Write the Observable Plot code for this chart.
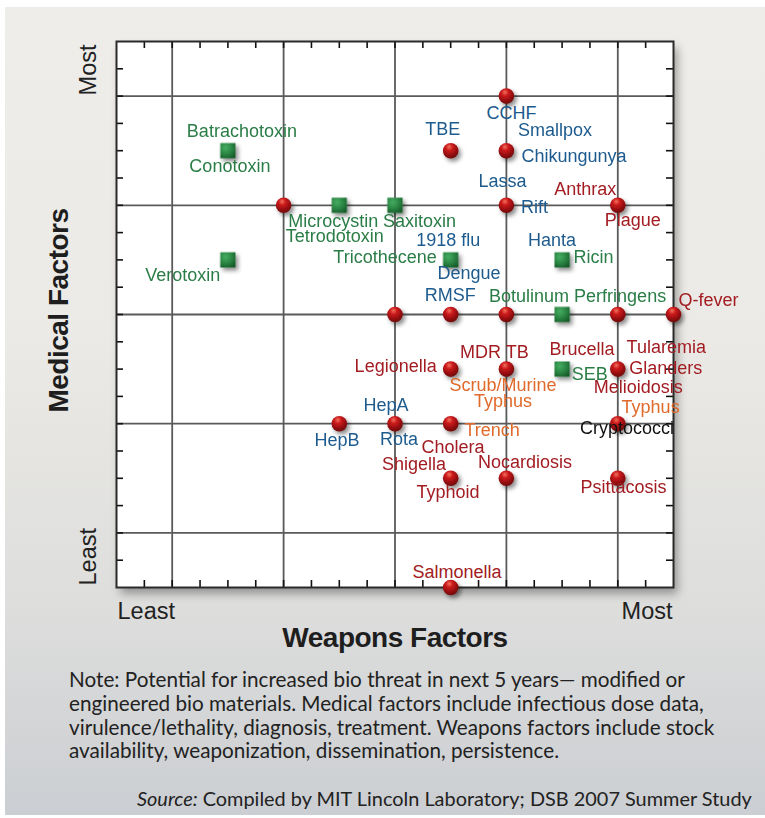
<!DOCTYPE html>
<html><head><meta charset="utf-8">
<script src="https://cdn.jsdelivr.net/npm/d3@7"></script>
<script src="https://cdn.jsdelivr.net/npm/@observablehq/plot@0.6"></script>
<style>
html,body{margin:0;padding:0;background:#ffffff;width:765px;height:818px;overflow:hidden;}
#panel{position:absolute;left:5px;top:7px;width:760px;height:808px;
  background:linear-gradient(to bottom,#efede9 0%,#ebeae6 40%,#dddddc 75%,#cbced2 100%);}
#chart{position:absolute;left:0;top:0;}
#note{position:absolute;left:69px;top:668px;font-family:Lato,"Liberation Sans",sans-serif;font-size:20.7px;line-height:23.8px;color:#222;white-space:nowrap;}
#source{position:absolute;left:137px;top:786px;font-family:Lato,"Liberation Sans",sans-serif;font-size:19.9px;color:#222;white-space:nowrap;}
</style></head>
<body>
<div id="panel"></div>
<div id="chart"></div>
<div id="note"></div>
<div id="source"></div>
<script>
// ---- data ----
const agentNames = ["CCHF","TBE","Smallpox","Chikungunya","Lassa","Rift","Anthrax","Plague",
  "Batrachotoxin","Conotoxin","Microcystin","Tetrodotoxin","Saxitoxin","Verotoxin",
  "1918 flu","Tricothecene","Dengue","Hanta","Ricin","RMSF","Botulinum Perfringens","Q-fever",
  "Legionella","MDR TB","Scrub/Murine\nTyphus","Brucella","SEB","Tularemia","Glanders","Melioidosis",
  "Typhus","Cryptococci","HepA","HepB","Rota","Cholera","Trench","Shigella","Typhoid",
  "Nocardiosis","Psittacosis","Salmonella"];
const agentWeapons = [14,12,14,14,14,14,18,18, 4,4,8,8,10,4, 12,12,12,16,16,12,16,20,
  12,14,14,16,16,18,18,18, 18,18,10,8,10,12,12,12,12, 14,18,12];
const agentMedical = [18,16,16,16,14,14,14,14, 16,16,14,14,14,12, 12,12,12,12,12,10,10,10,
  8,8,8,8,8,8,8,8, 6,6,6,6,6,6,6,4,4, 4,4,0];
const agentGroup = ["virus","virus","virus","virus","virus","virus","bacteria","bacteria",
  "toxin","toxin","toxin","toxin","toxin","toxin",
  "virus","toxin","virus","virus","toxin","virus","toxin","bacteria",
  "bacteria","bacteria","rickettsia","bacteria","toxin","bacteria","bacteria","bacteria",
  "rickettsia","fungus","virus","virus","virus","bacteria","rickettsia","bacteria","bacteria",
  "bacteria","bacteria","bacteria"];

// plotted markers (red spheres: pathogens; green squares: toxins)
const sphereWeapons = [14,12,14,6,14,18,10,12,14,18,20,12,14,18,8,10,12,18,12,14,18,12];
const sphereMedical = [18,16,16,14,14,14,10,10,10,10,10,8,8,8,6,6,6,6,4,4,4,0];
const squareWeapons = [4,8,10,4,12,16,16,16];
const squareMedical = [16,14,14,12,12,12,10,8];

const xEndLabels = ["Least","Most"];
const yEndLabels = ["Least","Most"];
const xTitle = "Weapons Factors";
const yTitle = "Medical Factors";
const gridValues = [2,6,10,14,18];
const minorTicks = d3.range(1,20);

const noteLines = ["Note: Potential for increased bio threat in next 5 years\u2014 modified or",
  "engineered bio materials. Medical factors include infectious dose data,",
  "virulence/lethality, diagnosis, treatment. Weapons factors include stock",
  "availability, weaponization, dissemination, persistence."];
const sourceLead = "Source:";
const sourceText = " Compiled by MIT Lincoln Laboratory; DSB 2007 Summer Study";

// ---- layout / style ----
const groupColors = {virus:"#1d5b8e", toxin:"#2a7d46", bacteria:"#a21c22", rickettsia:"#e06a2b", fungus:"#111111"};
// label offsets from marker (px) and anchor
const labelLayout = [
  [5,17.5,"middle"],[-8,-20.5,"middle"],[48.5,-20,"middle"],[15,6,"start"],[-4,-23,"middle"],[14.7,3,"start"],
  [-1.5,-15,"end"],[15,16,"middle"],
  [14,-19,"middle"],[2,16,"middle"],[-6,16.5,"middle"],[-4.5,31.5,"middle"],[-12,16.5,"start"],[-7.7,16.5,"end"],
  [-2.5,-18.6,"middle"],[-14,-2,"end"],[18.3,14,"middle"],[-10,-19,"middle"],[11.5,-1.5,"start"],[-0.5,-19,"middle"],
  [15.5,-17.5,"middle"],[5,-14,"start"],
  [-14,-2,"end"],[-12,-16.6,"middle"],[-3.5,25,"middle"],[20,-19,"middle"],[9.6,6,"start"],[8.8,-21,"start"],
  [11.5,0,"start"],[20.5,19,"middle"],
  [3.8,-16,"start"],[9.3,5,"middle"],[-9,-17.7,"middle"],[-2.4,17,"middle"],[4,16,"middle"],[2.4,24,"middle"],
  [13.7,7.5,"start"],[-4.7,-13.5,"end"],[-2.7,15,"middle"],
  [18.7,-15.5,"middle"],[5.8,9.5,"middle"],[6.3,-14.5,"middle"]
];

const FONT = "'Liberation Sans', Arial, Helvetica, sans-serif";
const spheres = sphereWeapons.map((w,i)=>({w, m: sphereMedical[i]}));
const squares = squareWeapons.map((w,i)=>({w, m: squareMedical[i]}));
const agents = agentNames.map((name,i)=>({name, w: agentWeapons[i], m: agentMedical[i], g: agentGroup[i]}));

const labelMarks = agents.map((a,i)=>Plot.text([a], {
  x:"w", y:"m", text:"name", dx: labelLayout[i][0], dy: labelLayout[i][1],
  textAnchor: labelLayout[i][2], lineAnchor:"middle", fill: groupColors[a.g], fontSize: 18, lineHeight: 0.88
}));

const W = 765, H = 665, ML = 116, MR = 92, MT = 41, MB = 78;
const FW = W - ML - MR, FH = H - MT - MB, TICK = 7;

const chart = Plot.plot({
  width: W, height: H, marginLeft: ML, marginRight: MR, marginTop: MT, marginBottom: MB,
  x: {domain:[0,20], axis:null},
  y: {domain:[0,20], axis:null},
  style: {background:"transparent", fontFamily: FONT, overflow:"visible"},
  marks: [
    Plot.frame({fill:"white", stroke:"none"}),
    Plot.gridX(gridValues, {stroke:"#5a5a5a", strokeOpacity:1, strokeWidth:1.8}),
    Plot.gridY(gridValues, {stroke:"#5a5a5a", strokeOpacity:1, strokeWidth:1.8}),
    Plot.ruleX(minorTicks, {x: d=>d, insetTop: FH - TICK, stroke:"#111", strokeWidth:1.6}),
    Plot.ruleX(minorTicks, {x: d=>d, insetBottom: FH - TICK, stroke:"#111", strokeWidth:1.6}),
    Plot.ruleY(minorTicks, {y: d=>d, insetRight: FW - TICK, stroke:"#111", strokeWidth:1.6}),
    Plot.ruleY(minorTicks, {y: d=>d, insetLeft: FW - TICK, stroke:"#111", strokeWidth:1.6}),
    Plot.frame({stroke:"#2a2a2a", strokeWidth:2}),
    Plot.dot(spheres, {x:"w", y:"m", r:7.8, fill:"url(#ball)", stroke:"none"}),
    Plot.dot(squares, {x:"w", y:"m", symbol:"square", r:8.6, fill:"url(#sq)", stroke:"none"}),
    ...labelMarks,
    Plot.text([xEndLabels[0]], {frameAnchor:"bottom-left", text:d=>d, textAnchor:"start", lineAnchor:"middle", dx:1, dy:23.5, fontSize:23.5, fill:"#222"}),
    Plot.text([xEndLabels[1]], {frameAnchor:"bottom-right", text:d=>d, textAnchor:"end", lineAnchor:"middle", dx:-1, dy:23.5, fontSize:23.5, fill:"#222"}),
    Plot.text([yEndLabels[1]], {frameAnchor:"top-left", text:d=>d, rotate:-90, textAnchor:"end", lineAnchor:"middle", dx:-28.5, dy:3, fontSize:23.5, fill:"#222"}),
    Plot.text([yEndLabels[0]], {frameAnchor:"bottom-left", text:d=>d, rotate:-90, textAnchor:"start", lineAnchor:"middle", dx:-28.5, dy:-2, fontSize:23.5, fill:"#222"}),
    Plot.text([xTitle], {frameAnchor:"bottom", text:d=>d, textAnchor:"middle", lineAnchor:"middle", dy:51, fontSize:28, fontWeight:"bold", fill:"#1e1e1e"}),
    Plot.text([yTitle], {frameAnchor:"left", text:d=>d, rotate:-90, textAnchor:"middle", lineAnchor:"middle", dx:-57, dy:-4, fontSize:28, fontWeight:"bold", fill:"#1e1e1e"})
  ]
});

const svg = d3.select(chart);
const defs = svg.insert("defs", ":first-child");
const rg = defs.append("radialGradient").attr("id","ball").attr("cx","42%").attr("cy","30%").attr("r","70%").attr("fx","40%").attr("fy","25%");
rg.append("stop").attr("offset","0%").attr("stop-color","#f2705a");
rg.append("stop").attr("offset","35%").attr("stop-color","#c8161a");
rg.append("stop").attr("offset","100%").attr("stop-color","#6e0a0a");
const sg = defs.append("radialGradient").attr("id","sq").attr("cx","35%").attr("cy","30%").attr("r","80%");
sg.append("stop").attr("offset","0%").attr("stop-color","#46ad62");
sg.append("stop").attr("offset","55%").attr("stop-color","#2a8442");
sg.append("stop").attr("offset","100%").attr("stop-color","#175a2a");
const sh = defs.append("filter").attr("id","shadow").attr("x","-50%").attr("y","-50%").attr("width","220%").attr("height","220%");
sh.append("feDropShadow").attr("dx",2.5).attr("dy",3).attr("stdDeviation",2.2).attr("flood-color","#000").attr("flood-opacity",0.45);
const fs = defs.append("filter").attr("id","fshadow").attr("x","-10%").attr("y","-10%").attr("width","125%").attr("height","125%");
fs.append("feDropShadow").attr("dx",4).attr("dy",6).attr("stdDeviation",5).attr("flood-color","#000").attr("flood-opacity",0.35);
svg.selectAll('g[aria-label="dot"]').attr("filter","url(#shadow)");
const frames = svg.selectAll('[aria-label="frame"]').nodes();
if (frames.length) d3.select(frames[0]).attr("filter","url(#fshadow)");
svg.selectAll('g[aria-label="text"] text').filter(function(){return this.textContent===xTitle||this.textContent===yTitle;}).style("letter-spacing","-0.5px");

document.getElementById("chart").appendChild(chart);

const note = document.getElementById("note");
noteLines.forEach((l,i)=>{ if(i) note.appendChild(document.createElement("br")); note.appendChild(document.createTextNode(l)); });
const src = document.getElementById("source");
const em = document.createElement("i"); em.textContent = sourceLead; src.appendChild(em);
src.appendChild(document.createTextNode(sourceText));
</script>
</body></html>
